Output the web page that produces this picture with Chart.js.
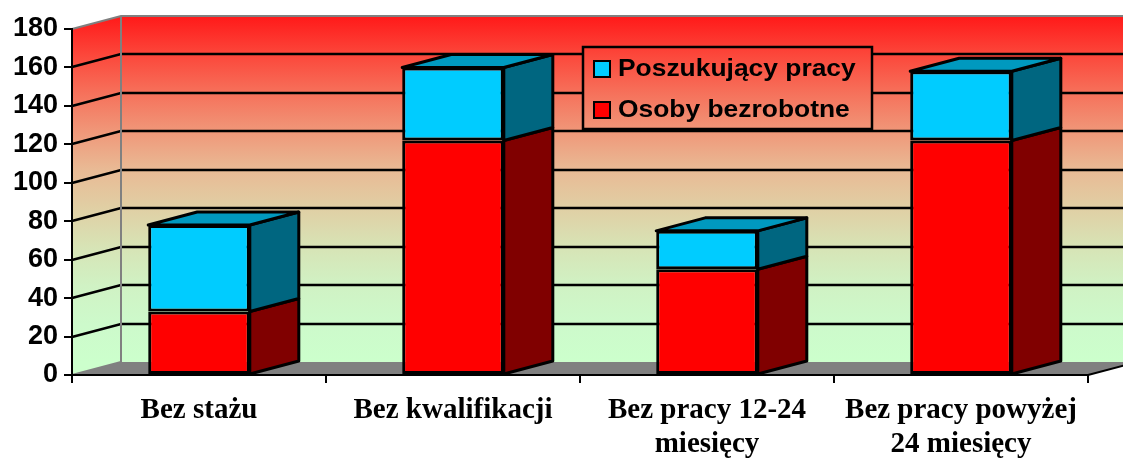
<!DOCTYPE html>
<html>
<head>
<meta charset="utf-8">
<script src="https://cdn.jsdelivr.net/npm/chart.js@4"></script>
<style>
  body { margin: 0; background: #fff; }
  #wrap { width: 1123px; height: 458px; }
</style>
</head>
<body>
<div id="wrap"><canvas id="chart"></canvas></div>
<script>
const categories = [['Bez stażu'], ['Bez kwalifikacji'], ['Bez pracy 12-24', 'miesięcy'], ['Bez pracy powyżej', '24 miesięcy']];
const unemployed = [33, 122, 55, 122];
const jobSeekers = [45, 38, 20, 36];
const yTicks = [0, 20, 40, 60, 80, 100, 120, 140, 160, 180];

const DX = 49, DY = 13;

function wallGradient(ctx, top, bottom) {
    const g = ctx.createLinearGradient(0, top, 0, bottom);
    g.addColorStop(0, 'rgb(255,25,25)');
    g.addColorStop(0.11, 'rgb(252,70,58)');
    g.addColorStop(0.22, 'rgb(246,112,90)');
    g.addColorStop(0.33, 'rgb(240,150,120)');
    g.addColorStop(0.44, 'rgb(233,185,148)');
    g.addColorStop(0.56, 'rgb(224,208,165)');
    g.addColorStop(0.67, 'rgb(215,228,182)');
    g.addColorStop(0.78, 'rgb(208,242,196)');
    g.addColorStop(0.89, 'rgb(205,250,203)');
    g.addColorStop(1, 'rgb(204,255,204)');
    return g;
}

// walls, floor and grid lines behind the bars
const wallsPlugin = {
    id: 'walls',
    beforeDraw(chart) {
        const { ctx, chartArea: a, scales } = chart;
        const y = scales.y;
        const top = y.getPixelForValue(180), bottom = y.getPixelForValue(0);
        const grad = wallGradient(ctx, top - DY, bottom - DY);
        ctx.save();
        // back wall
        ctx.fillStyle = grad;
        ctx.fillRect(a.left + DX, top - DY, chart.width - a.left - DX, bottom - top);
        // side wall
        ctx.beginPath();
        ctx.moveTo(a.left, top);
        ctx.lineTo(a.left + DX, top - DY);
        ctx.lineTo(a.left + DX, bottom - DY);
        ctx.lineTo(a.left, bottom);
        ctx.closePath();
        ctx.fill();
        // floor
        ctx.fillStyle = '#808080';
        ctx.beginPath();
        ctx.moveTo(a.left, bottom);
        ctx.lineTo(a.left + DX, bottom - DY);
        ctx.lineTo(a.right + DX, bottom - DY);
        ctx.lineTo(a.right, bottom);
        ctx.closePath();
        ctx.fill();
        // grid lines
        ctx.strokeStyle = '#000';
        ctx.lineWidth = 2.5;
        yTicks.forEach(v => {
            if (v === 0 || v === 180) return;
            const py = Math.round(y.getPixelForValue(v));
            ctx.beginPath();
            ctx.moveTo(a.left, py);
            ctx.lineTo(a.left + DX, py - DY);
            ctx.lineTo(chart.width, py - DY);
            ctx.stroke();
        });
        // wall edges
        ctx.strokeStyle = '#808080';
        ctx.lineWidth = 2;
        ctx.beginPath();
        ctx.moveTo(a.left, top);
        ctx.lineTo(a.left + DX, top - DY);
        ctx.lineTo(chart.width, top - DY);
        ctx.moveTo(a.left + DX, top - DY);
        ctx.lineTo(a.left + DX, bottom - DY);
        ctx.moveTo(a.left, bottom);
        ctx.lineTo(a.left + DX, bottom - DY);
        ctx.stroke();
        // floor right edge
        ctx.strokeStyle = '#000';
        ctx.beginPath();
        ctx.moveTo(a.right, bottom);
        ctx.lineTo(a.right + DX, bottom - DY);
        ctx.stroke();
        ctx.restore();
    }
};

// side and top faces of the bars
const extrudePlugin = {
    id: 'extrude',
    afterDatasetsDraw(chart) {
        const ctx = chart.ctx;
        const last = chart.data.datasets.length - 1;
        ctx.save();
        ctx.strokeStyle = '#000';
        ctx.lineWidth = 3;
        ctx.lineJoin = 'round';
        chart.data.datasets.forEach((ds, i) => {
            const meta = chart.getDatasetMeta(i);
            meta.data.forEach(bar => {
                const right = bar.x + bar.width / 2;
                const left = bar.x - bar.width / 2;
                const yt = Math.min(bar.y, bar.base);
                const yb = Math.max(bar.y, bar.base);
                ctx.fillStyle = ds.sideColor;
                ctx.beginPath();
                ctx.moveTo(right, yb);
                ctx.lineTo(right + DX, yb - DY);
                ctx.lineTo(right + DX, yt - DY);
                ctx.lineTo(right, yt);
                ctx.closePath();
                ctx.fill();
                ctx.stroke();
                if (i === last) {
                    ctx.fillStyle = ds.topColor;
                    ctx.beginPath();
                    ctx.moveTo(left, yt);
                    ctx.lineTo(left + DX, yt - DY);
                    ctx.lineTo(right + DX, yt - DY);
                    ctx.lineTo(right, yt);
                    ctx.closePath();
                    ctx.fill();
                    ctx.stroke();
                }
            });
        });
        ctx.restore();
    }
};

// legend box laid over the back wall
const legendPlugin = {
    id: 'boxLegend',
    afterDraw(chart) {
        const { ctx, scales } = chart;
        const top = scales.y.getPixelForValue(180), bottom = scales.y.getPixelForValue(0);
        const bx = 583, by = 47, bw = 289, bh = 82;
        ctx.save();
        ctx.fillStyle = wallGradient(ctx, top - DY, bottom - DY);
        ctx.fillRect(bx, by, bw, bh);
        ctx.strokeStyle = '#000';
        ctx.lineWidth = 2.5;
        ctx.strokeRect(bx, by, bw, bh);
        const items = chart.data.datasets.slice().reverse();
        ctx.font = 'bold 24px "Liberation Sans", Arial, sans-serif';
        ctx.textBaseline = 'middle';
        items.forEach((ds, k) => {
            const cy = 69 + k * 41;
            ctx.lineWidth = 2;
            ctx.fillStyle = ds.backgroundColor;
            ctx.fillRect(594, cy - 8, 16, 16);
            ctx.strokeRect(594, cy - 8, 16, 16);
            ctx.fillStyle = '#000';
            ctx.save();
            ctx.translate(618, cy);
            ctx.scale(1.1, 1);
            ctx.fillText(ds.label, 0, 0);
            ctx.restore();
        });
        ctx.restore();
    }
};

new Chart(document.getElementById('chart'), {
    type: 'bar',
    data: {
        labels: categories,
        datasets: [
            {
                label: 'Osoby bezrobotne',
                data: unemployed,
                backgroundColor: '#FF0000',
                sideColor: '#800000',
                topColor: '#C00000'
            },
            {
                label: 'Poszukujący pracy',
                data: jobSeekers,
                backgroundColor: '#00CCFF',
                sideColor: '#006680',
                topColor: '#0099BF'
            }
        ]
    },
    options: {
        responsive: true,
        maintainAspectRatio: false,
        animation: false,
        layout: { padding: { top: 29, right: 35, left: 0, bottom: 0 } },
        datasets: {
            bar: {
                categoryPercentage: 1,
                barPercentage: 0.4,
                borderColor: '#000',
                borderWidth: 3,
                borderSkipped: false
            }
        },
        plugins: {
            legend: { display: false },
            tooltip: { enabled: false }
        },
        scales: {
            x: {
                stacked: true,
                afterFit(scale) { scale.height = 83; },
                grid: { drawOnChartArea: false, drawTicks: true, tickLength: 8, color: '#000', lineWidth: 2 },
                border: { color: '#000', width: 2 },
                ticks: {
                    color: '#000',
                    padding: 11,
                    maxRotation: 0,
                    autoSkip: false,
                    font: { family: '"Liberation Serif", "Times New Roman", serif', size: 29, weight: 'bold', lineHeight: 1.15 }
                }
            },
            y: {
                stacked: true,
                min: 0,
                max: 180,
                afterFit(scale) { scale.width = 72; },
                afterBuildTicks(scale) { scale.ticks = yTicks.map(v => ({ value: v })); },
                grid: { drawOnChartArea: false, drawTicks: true, tickLength: 8, color: '#000', lineWidth: 2 },
                border: { color: '#000', width: 2 },
                ticks: {
                    color: '#000',
                    padding: 6,
                    font: { family: '"Liberation Sans", Arial, sans-serif', size: 27, weight: 'bold' }
                }
            }
        }
    },
    plugins: [wallsPlugin, extrudePlugin, legendPlugin]
});
</script>
</body>
</html>
